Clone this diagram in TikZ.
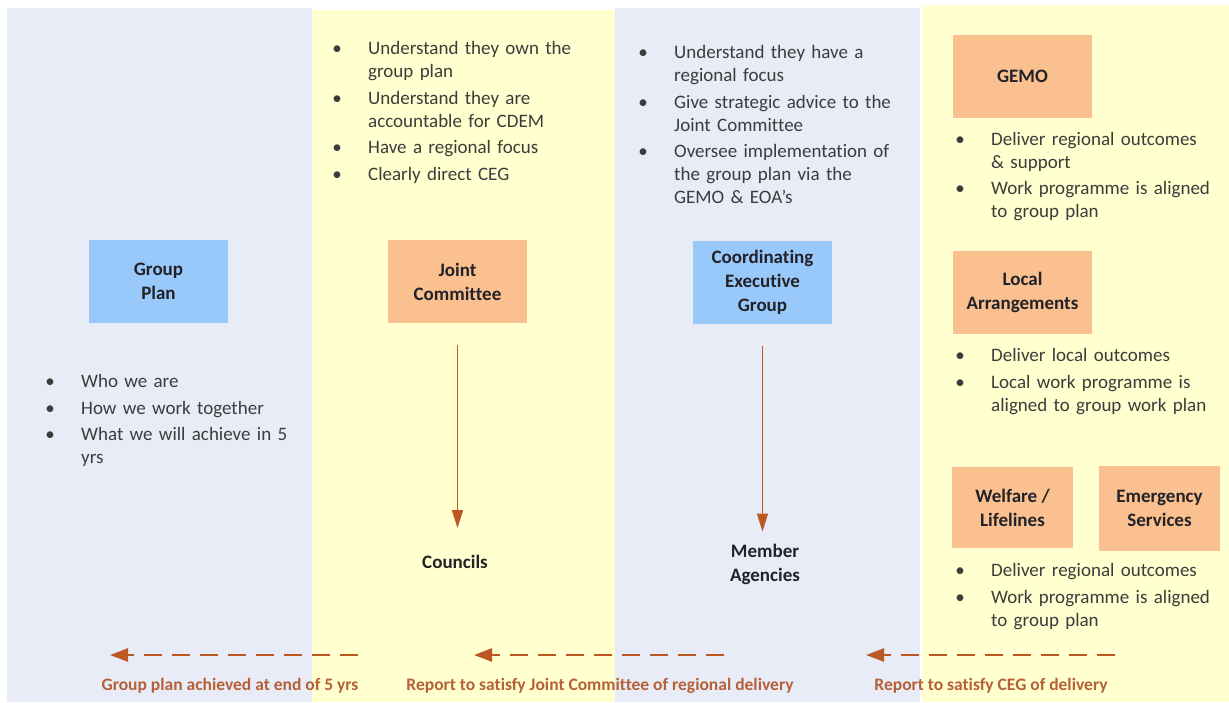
\documentclass[tikz,border=0pt]{standalone}
\usepackage{fontspec}
\setmainfont{Carlito}[Ligatures=NoCommon]
\usetikzlibrary{arrows.meta}
\definecolor{panelblue}{RGB}{231,236,246}
\definecolor{panelyellow}{RGB}{255,255,207}
\definecolor{boxblue}{RGB}{153,201,250}
\definecolor{boxorange}{RGB}{250,192,144}
\definecolor{arrowc}{RGB}{188,88,36}
\definecolor{labelc}{RGB}{182,96,56}
\definecolor{bodyc}{RGB}{60,60,60}
\definecolor{boxtextc}{RGB}{34,34,40}
\newcommand\bi[1]{\noindent\hangindent=31pt\hangafter=1\makebox[31pt][l]{\makebox[0pt]{\textbullet}}\strut#1\par}
\tikzset{
  lst/.style={anchor=north west, inner sep=0pt, text width=250pt, align=left,
    font=\fontsize{19}{23}\selectfont, text=bodyc},
  bx/.style={minimum width=139pt, minimum height=83pt, inner sep=0pt, align=center,
    font=\bfseries\fontsize{19}{24}\selectfont, text=boxtextc},
  bluebx/.style={bx, fill=boxblue},
  orbx/.style={bx, fill=boxorange},
  plain/.style={inner sep=0pt, align=center, font=\bfseries\fontsize{19}{24}\selectfont, text=boxtextc},
  varrow/.style={draw=arrowc, line width=1.4pt, -{Triangle[length=18pt,width=11pt]}},
  darrow/.style={draw=arrowc, line width=2.5pt, dash pattern=on 18pt off 10pt, -{Triangle[length=18pt,width=13pt]}},
  lbl/.style={inner sep=0pt, font=\bfseries\fontsize{17.5}{20}\selectfont, text=labelc},
}
\begin{document}
\begin{tikzpicture}[x=1pt,y=-1pt]
\useasboundingbox (0,0) rectangle (1229,702);
% panels
\fill[panelblue] (7,8) rectangle (312,702);
\fill[panelyellow] (312,10) rectangle (615,702);
\fill[panelblue] (615,8) rectangle (920,702);
\fill[panelyellow] (922,5) rectangle (1229,702);

% boxes
\node[bluebx] (gp) at (158.5,281.5) {Group\\Plan};
\node[orbx] (jc) at (457.5,281.5) {Joint\\Committee};
\node[bluebx] (ceg) at (762.5,282) {Coordinating\\Executive\\Group};
\node[orbx] (gemo) at (1022.5,76) {GEMO};
\node[orbx] (local) at (1022.5,292.5) {Local\\Arrangements};
\node[orbx, minimum width=121pt, minimum height=81pt] (wel) at (1012.5,507.5) {Welfare /\\Lifelines};
\node[orbx, minimum width=121pt, minimum height=85pt] (emg) at (1159.5,508.5) {Emergency\\Services};

\node[plain] (cou) at (455,562) {Councils};
\node[plain] (ma) at (765,564) {Member\\Agencies};

% bullet lists
\node[lst] (l1) at (50,371.4) {\setlength{\parskip}{3.5pt}%
  \bi{Who we are}\bi{How we work together}\bi{What we will achieve in 5\newline yrs}};
\node[lst] (l2) at (337,38.4) {\setlength{\parskip}{3.5pt}%
  \bi{Understand they own the\newline group plan}\bi{Understand they are\newline accountable for CDEM}\bi{Have a regional focus}\bi{Clearly direct CEG}};
\node[lst] (l3) at (643,42.4) {\setlength{\parskip}{3.5pt}%
  \bi{Understand they have a\newline regional focus}\bi{Give strategic advice to the\newline Joint Committee}\bi{Oversee implementation of\newline the group plan via the\newline GEMO \& EOA’s}};
\node[lst] (l4) at (960,129) {\setlength{\parskip}{3.5pt}%
  \bi{Deliver regional outcomes\newline \& support}\bi{Work programme is aligned\newline to group plan}};
\node[lst] (l5) at (960,345.4) {\setlength{\parskip}{3.5pt}%
  \bi{Deliver local outcomes}\bi{Local work programme is\newline aligned to group work plan}};
\node[lst] (l6) at (960,560.4) {\setlength{\parskip}{3.5pt}%
  \bi{Deliver regional outcomes}\bi{Work programme is aligned\newline to group plan}};

% vertical arrows
\draw[varrow, shorten <=22pt, shorten >=27pt] (jc.south) -- (jc.south |- cou.north);
\draw[varrow, shorten <=22pt, shorten >=12pt] (ceg.south) -- (ceg.south |- ma.north);

% dashed report arrows
\coordinate (a1s) at (358,655); \coordinate (a1e) at (110,655);
\coordinate (a2s) at (724,655); \coordinate (a2e) at (474,655);
\coordinate (a3s) at (1115,655); \coordinate (a3e) at (866,655);
\draw[darrow] (a1s) -- (a1e);
\draw[darrow] (a2s) -- (a2e);
\draw[darrow] (a3s) -- (a3e);

\node[lbl] (t1) at (230,686) {Group plan achieved at end of 5 yrs};
\node[lbl] (t2) at (600,686) {Report to satisfy Joint Committee of regional delivery};
\node[lbl] (t3) at (991,686) {Report to satisfy CEG of delivery};
\end{tikzpicture}
\end{document}
